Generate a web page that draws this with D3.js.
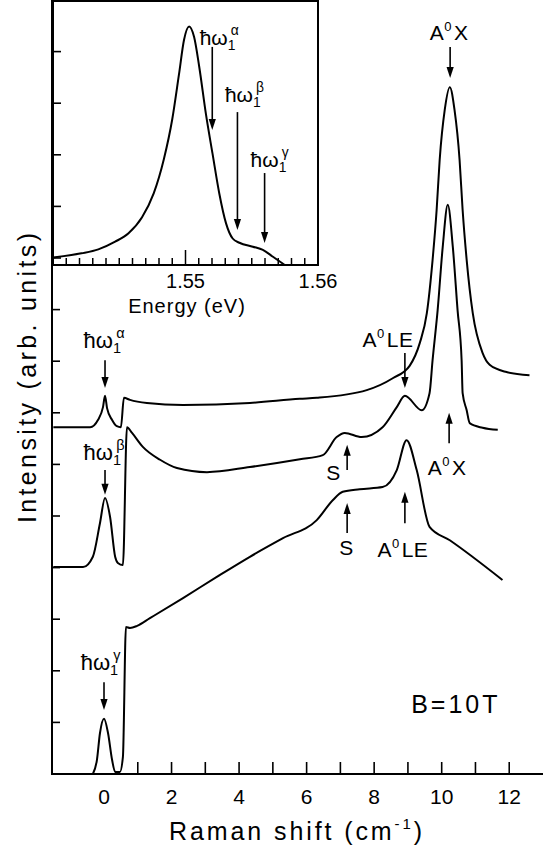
<!DOCTYPE html>
<html><head><meta charset="utf-8">
<script src="https://cdn.jsdelivr.net/npm/d3@7"></script>
<style>
body{margin:0;background:#fff}
svg{display:block}
text{font-family:"Liberation Sans",Arial,Helvetica,sans-serif;fill:#000}
</style>
</head><body>
<svg id="c" width="543" height="850"></svg>
<script>
// ---------- DATA ----------
// Raman spectra (x: Raman shift, cm^-1 ; y: intensity, arb. units, offset)
const alphaShift = [-1.5,-0.41,-0.18,-0.03,0.03,0.09,0.24,0.38,0.50,0.59,0.77,1.27,2.34,4.32,5.80,6.30,7.78,8.55,9.05,9.35,9.56,9.73,9.85,9.94,10.09,10.24,10.38,10.53,10.62,10.74,10.92,11.21,11.42,11.92,12.60];
const alphaInt   = [6.72,6.72,6.86,7.11,7.33,7.09,6.86,6.74,6.72,7.29,7.25,7.19,7.15,7.19,7.27,7.29,7.44,7.67,7.91,8.35,8.93,9.96,10.93,11.90,12.87,13.31,12.87,11.90,10.93,9.96,8.93,8.16,7.93,7.79,7.73];
const betaShift  = [-1.5,-0.62,-0.33,-0.12,0.03,0.18,0.33,0.41,0.56,0.68,0.83,1.15,1.66,2.16,3.05,4.32,5.80,6.48,6.89,7.13,7.63,8.25,8.67,8.91,9.41,9.64,9.73,9.88,10.03,10.18,10.33,10.47,10.59,10.62,10.74,10.83,11.21,11.66];
const betaInt    = [4.01,4.01,4.21,4.86,5.35,4.98,4.21,4.09,4.05,6.72,6.61,6.34,6.09,5.93,5.85,5.95,6.10,6.18,6.53,6.61,6.53,6.72,7.11,7.33,7.05,7.38,8.02,8.99,10.21,11.03,10.21,8.99,8.02,7.38,7.05,6.80,6.71,6.67];
const gammaShift = [-0.33,-0.21,-0.12,0,0.12,0.24,0.33,0.47,0.56,0.65,0.77,0.98,1.36,2.34,3.34,4.32,5.30,6.30,6.78,7.07,7.57,8.25,8.67,8.96,9.26,9.64,10.24,11.80];
const gammaInt   = [0,0.27,0.79,1.07,0.79,0.27,0.04,0.04,0.33,2.85,2.83,2.87,3.02,3.41,3.82,4.21,4.57,4.92,5.31,5.47,5.52,5.56,5.89,6.47,5.89,4.79,4.53,3.76];

// Inset: luminescence spectrum
const insetEnergy = [1.5400,1.54215,1.54342,1.54469,1.54570,1.54672,1.54760,1.54837,1.54900,1.54951,1.54989,1.55027,1.55065,1.55103,1.55154,1.55204,1.55255,1.55306,1.55356,1.55407,1.55508,1.55584,1.55660,1.55749];
const insetInt    = [0.028,0.044,0.059,0.088,0.12,0.18,0.27,0.40,0.55,0.72,0.85,0.90,0.86,0.75,0.57,0.42,0.27,0.157,0.10,0.084,0.069,0.057,0.031,0.0];

// Tick labels
const xTickLabels = [0,2,4,6,8,10,12];
const xTickMarks  = [1,2,3,4,5,6,7,8,9,10,11,12];
const yTickMarks  = [1,2,3,4,5,6,7,8,9,10,11,12,13,14];
const insetTickLabels = [1.55,1.56];
const insetMinorTicks = d3.range(1.541,1.5595,0.001);

// Inset laser-energy markers
const insetMarks = [
  {sup:"α", e:1.55202, y1:0.823, y2:0.509, le:1.55255, ly:0.830},
  {sup:"β", e:1.55392, y1:0.577, y2:0.132, le:1.55445, ly:0.615},
  {sup:"γ", e:1.55597, y1:0.347, y2:0.083, le:1.55635, ly:0.370}
];
// Main annotations
const hwMarks = [
  {sup:"α", x:0.03, y1:8.02, y2:7.48, lx:0.0,  ly:8.26},
  {sup:"β", x:0.03, y1:5.89, y2:5.41, lx:0.0,  ly:6.09},
  {sup:"γ", x:0.0,  y1:1.78, y2:1.24, lx:-0.1, ly:2.02}
];
const peakMarks = [
  {t:"AX",  x:10.25, y1:14.09, y2:13.49, lx:10.22, ly:14.22},
  {t:"ALE", x:8.91,  y1:8.16,  y2:7.48,  lx:8.41,  ly:8.28},
  {t:"S",   x:7.20,  y1:5.89,  y2:6.38,  lx:6.80,  ly:5.70},
  {t:"AX",  x:10.22, y1:6.41,  y2:7.00,  lx:10.16, ly:5.79},
  {t:"S",   x:7.20,  y1:4.67,  y2:5.25,  lx:7.18,  ly:4.24},
  {t:"ALE", x:8.91,  y1:4.86,  y2:5.47,  lx:8.85,  ly:4.21}
];

// ---------- DRAW ----------
const svg = d3.select("#c");
const x = d3.scaleLinear().domain([-1.54, 13.0]).range([52, 543]);
const y = d3.scaleLinear().domain([0, 15]).range([774, 0]);
const xi = d3.scaleLinear().domain([1.54, 1.56]).range([53, 318]);
const yi = d3.scaleLinear().domain([0, 1]).range([265, 0]);

const line = d3.line().x(d=>x(d[0])).y(d=>y(d[1])).curve(d3.curveMonotoneX);
const iline = d3.line().x(d=>xi(d[0])).y(d=>yi(d[1])).curve(d3.curveMonotoneX);

function arrow(g, px, py1, py2){
  const dir = py2 > py1 ? 1 : -1;
  g.append("line").attr("x1",px).attr("x2",px).attr("y1",py1).attr("y2",py2 - dir*8)
    .attr("stroke","#000").attr("stroke-width",1.6);
  g.append("path").attr("d",`M${px},${py2} L${px-3.6},${py2-dir*11} L${px+3.6},${py2-dir*11} Z`).attr("fill","#000");
}
function hwLabel(g, px, py, sup, fs){
  const t = g.append("text").attr("x",px).attr("y",py).attr("text-anchor","middle").attr("font-size",fs);
  t.append("tspan").text("ħω");
  t.append("tspan").attr("font-size",fs*0.66).attr("dy",fs*0.24).text("1");
  t.append("tspan").attr("font-size",fs*0.66).attr("dx",-fs*0.22).attr("dy",-fs*0.7).text(sup);
}
function peakLabel(g, px, py, t, fs){
  const el = g.append("text").attr("x",px).attr("y",py).attr("text-anchor","middle").attr("font-size",fs).attr("letter-spacing",0.5);
  if (t === "S") { el.text("S"); return; }
  el.append("tspan").text("A");
  el.append("tspan").attr("font-size",fs*0.62).attr("dy",-fs*0.42).text("0");
  el.append("tspan").attr("dy",fs*0.42).attr("dx",2).text(t.slice(1));
}

// main axes
const ax = svg.append("g").attr("stroke","#000").attr("stroke-width",2);
ax.append("line").attr("x1",x(-1.54)).attr("x2",543).attr("y1",y(0)).attr("y2",y(0));
ax.append("line").attr("x1",x(-1.54)).attr("x2",x(-1.54)).attr("y1",y(0)+1).attr("y2",0);
xTickMarks.forEach(v=>ax.append("line").attr("x1",x(v)).attr("x2",x(v)).attr("y1",y(0)).attr("y2",y(0)-12).attr("stroke-width",1.6));
yTickMarks.forEach(v=>ax.append("line").attr("x1",x(-1.54)).attr("x2",x(-1.54)+8).attr("y1",y(v)).attr("y2",y(v)).attr("stroke-width",1.6));

svg.selectAll(".xl").data(xTickLabels).enter().append("text")
  .attr("x",d=>x(d)).attr("y",804).attr("text-anchor","middle").attr("font-size",21).text(d=>d);

const xt = svg.append("text").attr("x",297).attr("y",840).attr("text-anchor","middle").attr("font-size",25).attr("letter-spacing",2.9);
xt.append("tspan").text("Raman shift (cm");
xt.append("tspan").attr("font-size",15).attr("dy",-11).text("-1");
xt.append("tspan").attr("dy",11).text(")");

svg.append("text").attr("transform","translate(36,378) rotate(-90)").attr("text-anchor","middle")
  .attr("font-size",25).attr("textLength",290).attr("lengthAdjust","spacing").text("Intensity (arb. units)");

// spectra
const curves = svg.append("g").attr("fill","none").attr("stroke","#000").attr("stroke-width",2).attr("stroke-linejoin","round");
[[alphaShift,alphaInt],[betaShift,betaInt],[gammaShift,gammaInt]].forEach(([xs,ys])=>{
  curves.append("path").attr("d", line(xs.map((v,i)=>[v,ys[i]])));
});

// annotations main
const ann = svg.append("g");
hwMarks.forEach(m=>{ arrow(ann, x(m.x), y(m.y1), y(m.y2)); hwLabel(ann, x(m.lx), y(m.ly), m.sup, 22); });
peakMarks.forEach(m=>{ arrow(ann, x(m.x), y(m.y1), y(m.y2)); peakLabel(ann, x(m.lx), y(m.ly), m.t, 21); });
svg.append("text").attr("x",x(10.42)).attr("y",y(1.18)).attr("text-anchor","middle").attr("font-size",25).attr("letter-spacing",3).text("B=10T");

// inset
const ins = svg.append("g");
ins.append("rect").attr("x",xi(1.54)).attr("y",1).attr("width",xi(1.56)-xi(1.54)).attr("height",yi(0)-1)
  .attr("fill","#fff").attr("stroke","#000").attr("stroke-width",2);
insetMinorTicks.forEach(v=>{
  const major = Math.abs(v-1.55) < 1e-6;
  ins.append("line").attr("x1",xi(v)).attr("x2",xi(v)).attr("y1",yi(0)).attr("y2",yi(0)-(major?15:7)).attr("stroke","#000").attr("stroke-width",1.5);
});
yTickMarks.filter(v=>y(v) < yi(0)-4).forEach(v=>ins.append("line").attr("x1",xi(1.54)).attr("x2",xi(1.54)+8).attr("y1",y(v)).attr("y2",y(v)).attr("stroke","#000").attr("stroke-width",1.6));
ins.append("path").attr("d", iline(insetEnergy.map((v,i)=>[v,insetInt[i]])))
  .attr("fill","none").attr("stroke","#000").attr("stroke-width",2);
insetTickLabels.forEach(v=>ins.append("text").attr("x",xi(v)).attr("y",288).attr("text-anchor","middle").attr("font-size",20).text(v.toFixed(2)));
ins.append("text").attr("x",187).attr("y",313).attr("text-anchor","middle").attr("font-size",20).attr("letter-spacing",1).text("Energy (eV)");
insetMarks.forEach(m=>{ arrow(ins, xi(m.e), yi(m.y1), yi(m.y2)); hwLabel(ins, xi(m.le), yi(m.ly), m.sup, 21); });
</script>
</body></html>
